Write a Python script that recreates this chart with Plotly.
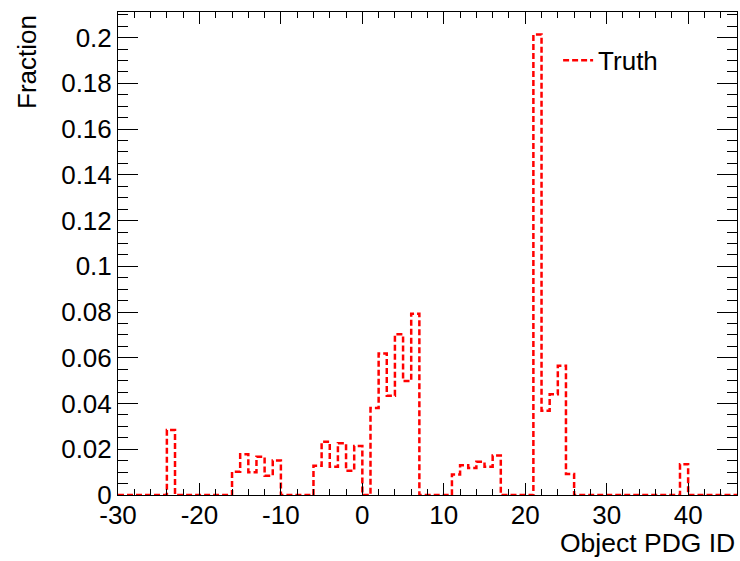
import numpy as np
import plotly.graph_objects as go

# Histogram definition: unit-width bins from -30 to 46
x_min = -30
x_max = 46
# Non-empty bins: lower edge of bin and fraction
bin_low = [-24, -16, -15, -14, -13, -12, -11,
           -6, -5, -4, -3, -2, -1,
           1, 2, 3, 4, 5, 6,
           11, 12, 13, 14, 15, 16,
           21, 22, 23, 24, 25,
           39]
fraction = [0.0284, 0.0102, 0.0178, 0.0100, 0.0167, 0.0084, 0.0151,
            0.0128, 0.0233, 0.0124, 0.0226, 0.0106, 0.0214,
            0.0380, 0.0619, 0.0434, 0.0703, 0.0498, 0.0793,
            0.0090, 0.0130, 0.0118, 0.0145, 0.0124, 0.0173,
            0.2014, 0.0368, 0.0440, 0.0565, 0.0092,
            0.0135]

x_ticks = [-30, -20, -10, 0, 10, 20, 30, 40]
x_tick_text = ["-30", "-20", "-10", "0", "10", "20", "30", "40"]

edges = np.arange(x_min, x_max + 1)
values = np.zeros(len(edges) - 1)
for lo, f in zip(bin_low, fraction):
    values[lo - x_min] = f
y_step = np.append(values, values[-1])

FONT = "Liberation Sans, Arial, Helvetica, sans-serif"

fig = go.Figure()
fig.add_trace(go.Scatter(
    x=edges, y=y_step, mode="lines", line_shape="hv", name="Truth",
    line=dict(color="#ff0000", width=2.5, dash="6px,3px"),
    cliponaxis=False,
))

fig.update_layout(
    width=740, height=561,
    margin=dict(l=118, r=3, t=12, b=66),
    paper_bgcolor="white", plot_bgcolor="white",
    font=dict(family=FONT, size=26, color="black"),
    showlegend=True,
    legend=dict(x=0.711, y=0.900, xanchor="left", yanchor="middle",
                bgcolor="rgba(0,0,0,0)", borderwidth=0,
                font=dict(family=FONT, size=26, color="black"),
                itemwidth=30),
    xaxis=dict(
        range=[x_min, x_max], showgrid=False, zeroline=False,
        showline=True, linecolor="black", linewidth=1, mirror="allticks",
        ticks="inside", ticklen=12, tickcolor="black", tickwidth=1,
        tickvals=x_ticks, ticktext=x_tick_text,
        ticklabelstandoff=-3,
        tickfont=dict(family=FONT, size=26),
        minor=dict(ticks="inside", ticklen=6, dtick=2, tick0=0,
                   tickcolor="black", tickwidth=1, showgrid=False),
    ),
    yaxis=dict(
        range=[0, 0.2112], showgrid=False, zeroline=False,
        showline=True, linecolor="black", linewidth=1, mirror="allticks",
        ticks="inside", ticklen=20, tickcolor="black", tickwidth=1,
        dtick=0.02, tick0=0,
        tickfont=dict(family=FONT, size=26),
        minor=dict(ticks="inside", ticklen=10, dtick=0.005, tick0=0,
                   tickcolor="black", tickwidth=1, showgrid=False),
    ),
    annotations=[
        dict(text="Fraction", xref="paper", yref="paper",
             x=(27 - 118) / 619, y=(495 - 13) / 483,
             xanchor="center", yanchor="top", textangle=-90,
             showarrow=False, font=dict(family=FONT, size=26)),
        dict(text="Object PDG ID", xref="paper", yref="paper",
             x=1.0, y=(495 - 543) / 483,
             xanchor="right", yanchor="middle",
             showarrow=False, font=dict(family=FONT, size=26.5)),
    ],
)

fig.write_html("out.html")
